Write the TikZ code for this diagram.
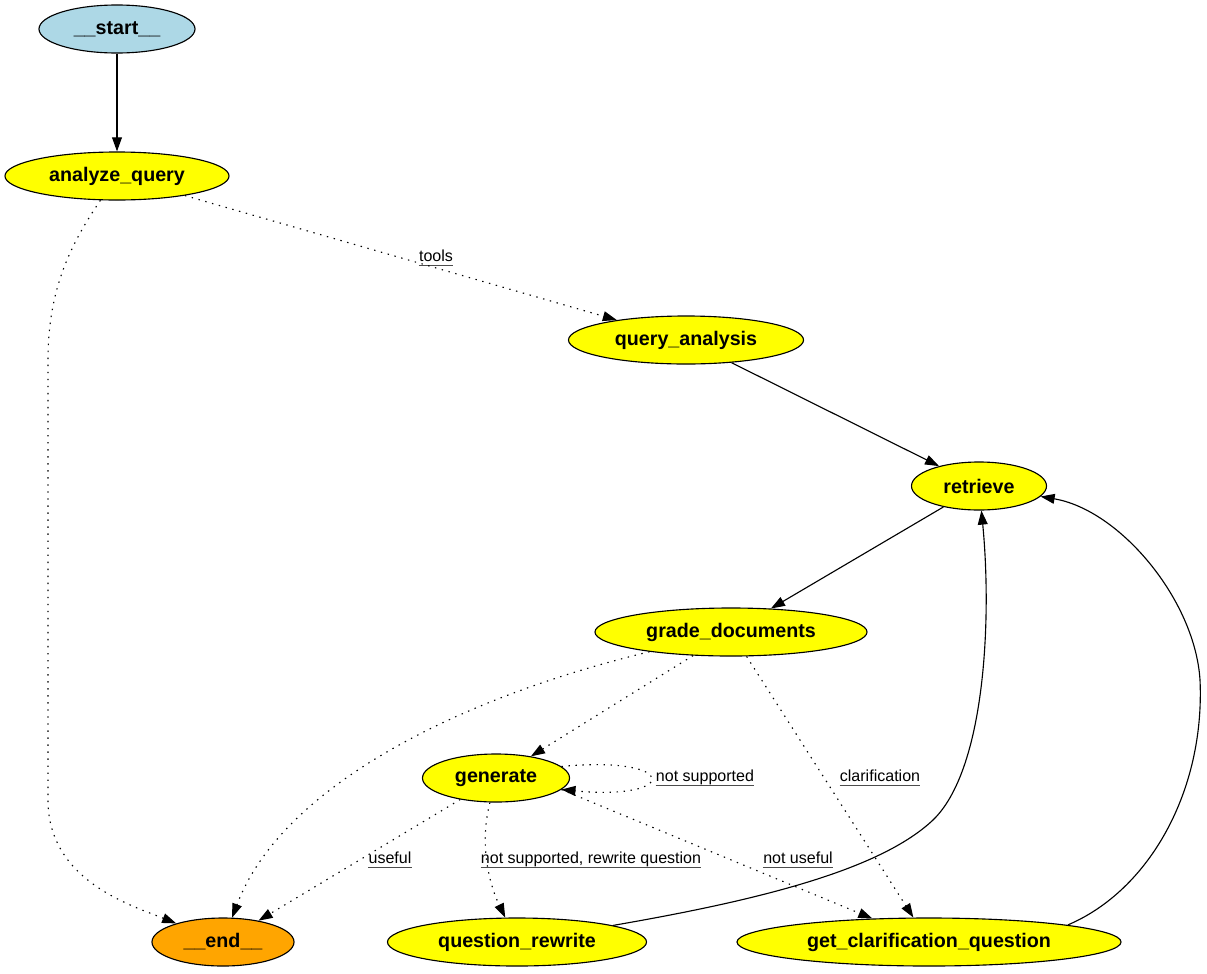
\documentclass[tikz,border=0pt]{standalone}
\usepackage{fontspec}
\setmainfont{Liberation Sans}
\usetikzlibrary{arrows.meta,shapes.geometric}
\definecolor{nodeyellow}{RGB}{255,255,0}
\definecolor{lightblue}{RGB}{173,216,230}
\definecolor{graphorange}{RGB}{255,165,0}
\begin{document}
\begin{tikzpicture}[x=0.025cm,y=-0.025cm]

\tikzset{vertex/.style = {shape=ellipse,fill=nodeyellow,draw,line width=0.8pt,inner sep=0pt,minimum height=1.2cm,font=\bfseries\fontsize{14}{16}\selectfont}}
\tikzset{vertex2/.style = {vertex,fill=lightblue}}
\tikzset{vertex3/.style = {vertex,fill=graphorange}}
\tikzset{edge/.style = {line width=0.8pt,-{Triangle[length=10pt,width=7pt]}}}
\tikzset{dotedge/.style = {edge,dash pattern=on 1pt off 4pt}}
\tikzset{elabel/.style = {inner xsep=0pt,inner ysep=0.3pt,text height=8pt,text depth=2.3pt,font=\fontsize{11.4}{13}\selectfont,
  append after command={(\tikzlastnode.south west) edge[draw=black!70,line width=0.6pt] (\tikzlastnode.south east)}}}
\useasboundingbox (0,0) rectangle (1207,973);
% vertices
\node[vertex2,minimum width=3.9cm] (start) at (117,29) {\_\_start\_\_};
\node[vertex,minimum width=5.6cm] (analyze) at (117,176) {analyze\_query};
\node[vertex,minimum width=5.875cm] (qanalysis) at (686,340) {query\_analysis};
\node[vertex,minimum width=3.375cm] (retrieve) at (979,486) {retrieve};
\node[vertex,minimum width=6.8cm] (grade) at (731,632) {grade\_documents};
\node[vertex,minimum width=3.675cm] (generate) at (496,778) {generate};
\node[vertex3,minimum width=3.55cm] (end) at (223,942) {\_\_end\_\_};
\node[vertex,minimum width=6.475cm] (rewrite) at (517,942) {question\_rewrite};
\node[vertex,minimum width=9.6cm] (clarify) at (929,942) {get\_clarification\_question};
% labels
\node[elabel] (ltools) at (436,257) {tools};
\node[elabel] (lnotsup) at (705,777) {not supported};
\node[elabel] (lclar) at (880,777) {clarification};
\node[elabel] (luseful) at (390,859) {useful};
\node[elabel] (lrewrite) at (591,859) {not supported, rewrite question};
\node[elabel] (lnotuseful) at (798,859) {not useful};
%edges
\draw[edge] (start) to (analyze);
\draw[dotedge] (analyze) to (qanalysis);
\draw[dotedge] (analyze) .. controls (70,245) and (48,290) .. (48,360) -- (48,800) .. controls (48,880) and (130,905) .. (end);
\draw[edge] (qanalysis) to (retrieve);
\draw[edge] (retrieve) to (grade);
\draw[dotedge] (grade) .. controls (450,700) and (280,790) .. (end);
\draw[dotedge] (grade) to (generate);
\draw[dotedge] (grade) to (clarify);
\draw[dotedge] (generate.10) .. controls (680,755) and (680,801) .. (generate.-10);
\draw[dotedge] (generate) to (end);
\draw[dotedge] (generate) .. controls (478,850) and (492,890) .. (rewrite);
\draw[dotedge] (generate.-10) to (clarify);
\draw[edge] (rewrite) .. controls (760,900) and (880,870) .. (933,820) .. controls (985,770) and (992,620) .. (retrieve);
\draw[edge] (clarify.7) .. controls (1150,890) and (1205,790) .. (1200,680) .. controls (1195,600) and (1120,510) .. (retrieve);
\end{tikzpicture}
\end{document}
